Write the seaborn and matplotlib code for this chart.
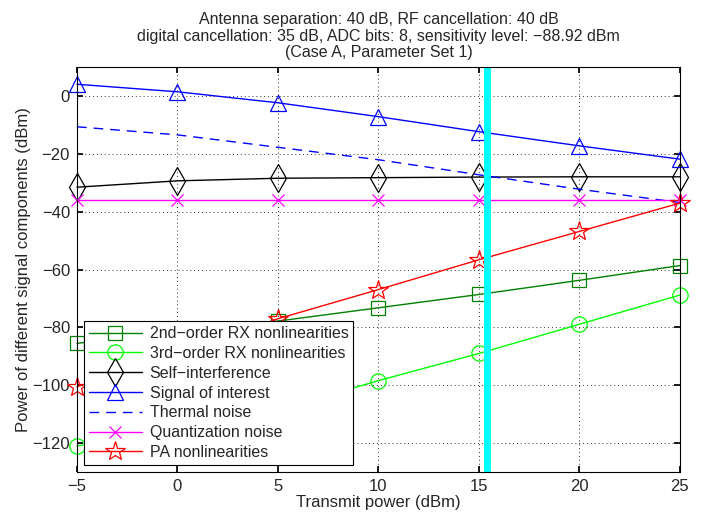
import numpy as np
import pandas as pd
import matplotlib
matplotlib.use('Agg')
import matplotlib.pyplot as plt
import seaborn as sns

# --- datos ---
potencia_tx = [-5, 0, 5, 10, 15, 20, 25]

rx_2do_orden = [-85.5, -81.5, -77.8, -73.2, -68.6, -63.7, -58.6]
rx_3er_orden = [-121.0, -116.0, -108.5, -98.4, -89.0, -78.9, -68.8]
auto_interf = [-31.5, -29.3, -28.4, -28.2, -28.0, -27.9, -27.9]
senal_interes = [4.1, 1.5, -2.3, -7.1, -12.3, -17.2, -21.8]
ruido_termico = [-10.6, -13.4, -17.7, -22.0, -27.2, -32.2, -36.8]
ruido_cuant = [-36.0, -36.0, -36.0, -36.0, -36.0, -36.0, -36.0]
pa_nolineal = [-100.5, -89.0, -77.0, -66.9, -56.6, -46.8, -37.0]

linea_sensib = 15.4

titulo = ("Antenna separation: 40 dB, RF cancellation: 40 dB\n"
          "digital cancellation: 35 dB, ADC bits: 8, sensitivity level: \u221288.92 dBm\n"
          "(Case A, Parameter Set 1)")

# nombre, valores, color, marcador, tamaño, estilo
series = [
    ('2nd\u2212order RX nonlinearities', rx_2do_orden, '#008000', 's', 10, '-'),
    ('3rd\u2212order RX nonlinearities', rx_3er_orden, '#00ff00', 'o', 11, '-'),
    ('Self\u2212interference', auto_interf, 'black', 'd', 14, '-'),
    ('Signal of interest', senal_interes, 'blue', '^', 12, '-'),
    ('Thermal noise', ruido_termico, 'blue', None, 0, (0, (7, 5))),
    ('Quantization noise', ruido_cuant, 'magenta', 'x', 9, '-'),
    ('PA nonlinearities', pa_nolineal, 'red', '*', 15, '-'),
]

sns.set_theme(style="white")
plt.rcParams['font.family'] = ['Liberation Sans', 'DejaVu Sans']
plt.rcParams['axes.unicode_minus'] = True

fig = plt.figure(figsize=(7.06, 5.17), dpi=100)
ax = fig.add_axes([0.109, 0.087, 0.854, 0.783])

for nombre, valores, color, marcador, tam, estilo in series:
    df = pd.DataFrame({'x': potencia_tx, 'y': valores})
    linea = sns.lineplot(data=df, x='x', y='y', ax=ax, color=color, marker=marcador,
                         markersize=tam, markerfacecolor='none', markeredgecolor=color,
                         markeredgewidth=0.9, linewidth=1.0, label=nombre,
                         clip_on=False, zorder=3).lines[-1]
    linea.set_linestyle(estilo)

ax.axvline(linea_sensib, color='#00ffff', linewidth=5, zorder=4)

ax.set_xlim(-5, 25)
ax.set_ylim(-130, 10)
ax.set_xticks([-5, 0, 5, 10, 15, 20, 25])
ax.set_yticks([-120, -100, -80, -60, -40, -20, 0])
ax.grid(True, color='black', linestyle=(0, (1, 3)), linewidth=0.7, alpha=0.8)
ax.tick_params(direction='in', length=4, top=True, right=True, labelsize=12,
               color='black', left=True, bottom=True, pad=5)
for s in ax.spines.values():
    s.set_color('black')
    s.set_linewidth(0.8)
    s.set_zorder(5)

ax.set_xlabel('Transmit power (dBm)', fontsize=12, labelpad=1)
ax.set_ylabel('Power of different signal components (dBm)', fontsize=12, labelpad=1)
ax.set_title(titulo, fontsize=11.5, linespacing=1.15, pad=7)

leg = ax.legend(loc='lower left', bbox_to_anchor=(0.012, 0.018), fontsize=11.5,
                frameon=True, fancybox=False, handlelength=3.3, handletextpad=0.5,
                labelspacing=0.3, borderpad=0.3, borderaxespad=0)
leg.get_frame().set_edgecolor('black')
leg.get_frame().set_linewidth(0.8)
leg.get_frame().set_alpha(1)
leg.set_zorder(10)
for h in leg.get_lines():
    if h.get_label() == 'Thermal noise':
        h.set_linestyle((0, (7, 5)))

fig.savefig('out.png', dpi=100)
